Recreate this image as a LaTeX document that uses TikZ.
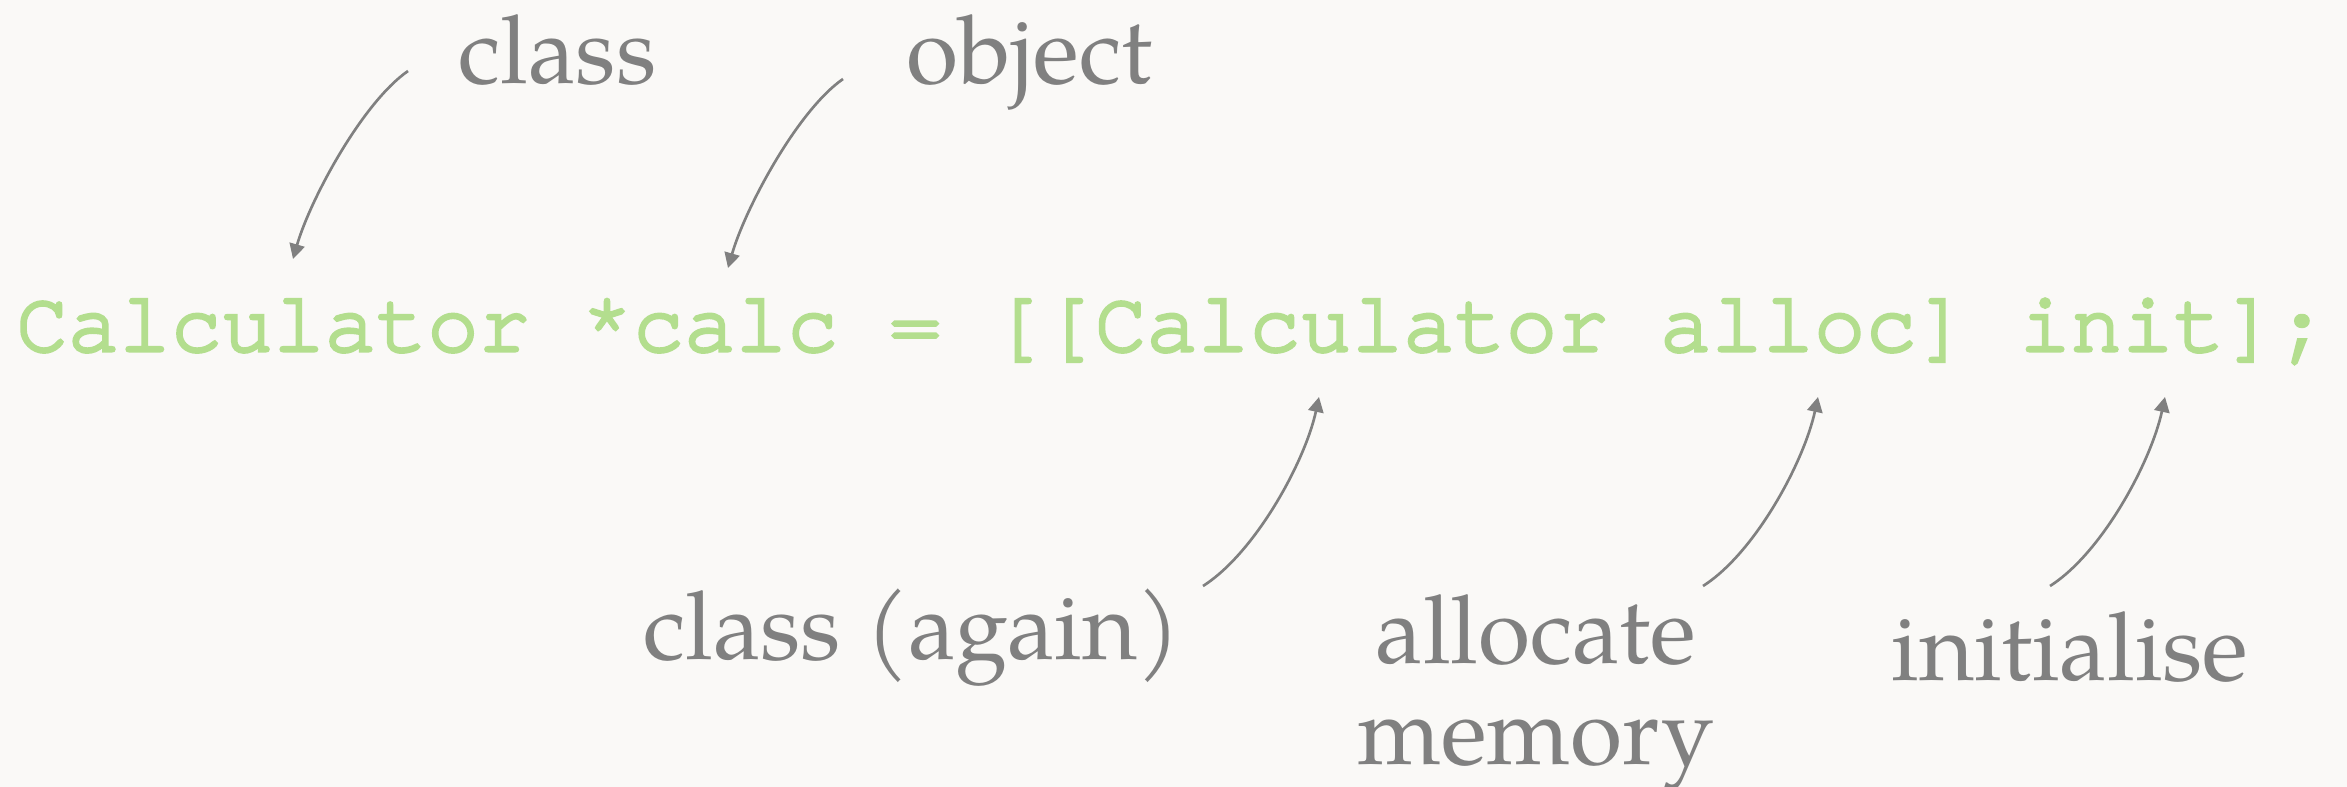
\documentclass[tikz,border=0pt]{standalone}
\usepackage{fontspec}
\newfontfamily\labelfont{TeX Gyre Pagella}
\newfontfamily\codefont{TeX Gyre Cursor}[FakeBold=3.6]
\usetikzlibrary{arrows.meta}
\definecolor{bgc}{HTML}{FAF9F7}
\definecolor{codegreen}{HTML}{B3DE8E}
\definecolor{labelgray}{HTML}{808080}
\tikzset{
  lbl/.style={anchor=base, inner sep=0pt, text=labelgray,
    font=\labelfont\fontsize{28.5pt}{30.3pt}\selectfont, align=center},
  codeline/.style={anchor=base, inner sep=0pt, text=codegreen,
    font=\codefont\fontsize{25.68pt}{30pt}\selectfont},
  pointer/.style={draw=labelgray, line width=0.8pt,
    -{Triangle[length=4.5pt,width=4.6pt]}},
}
\begin{document}
\begin{tikzpicture}[x=0.3pt,y=-0.3pt]
\useasboundingbox (0,0) rectangle (2347,787);
\fill[bgc] (0,0) rectangle (2347,787);
\node[codeline] (code) at (1172,351) {Calculator *calc = [[Calculator alloc] init];};
\node[lbl] (lclass) at (557.5,83) {class};
\node[lbl] (lobject) at (1029.5,83) {object};
\node[lbl] (lagain) at (912,659) {class (again)};
\node[lbl] (lalloc) at (1536,764) {allocate\\memory};
\node[lbl] (linit) at (2070,680) {initialise};
\coordinate (s1) at (408,71);   \coordinate (t1) at (293,259);
\coordinate (s2) at (843,79);   \coordinate (t2) at (728,268);
\coordinate (s3) at (1203,586); \coordinate (t3) at (1319,397);
\coordinate (s4) at (1703,586); \coordinate (t4) at (1818,397);
\coordinate (s5) at (2050,586); \coordinate (t5) at (2165,397);
\draw[pointer] (s1) .. controls (362,103) and (310,200) .. (t1);
\draw[pointer] (s2) .. controls (797,111) and (745,209) .. (t2);
\draw[pointer] (s3) .. controls (1255,553) and (1305,462) .. (t3);
\draw[pointer] (s4) .. controls (1755,553) and (1804,462) .. (t4);
\draw[pointer] (s5) .. controls (2102,553) and (2151,462) .. (t5);
\end{tikzpicture}
\end{document}
